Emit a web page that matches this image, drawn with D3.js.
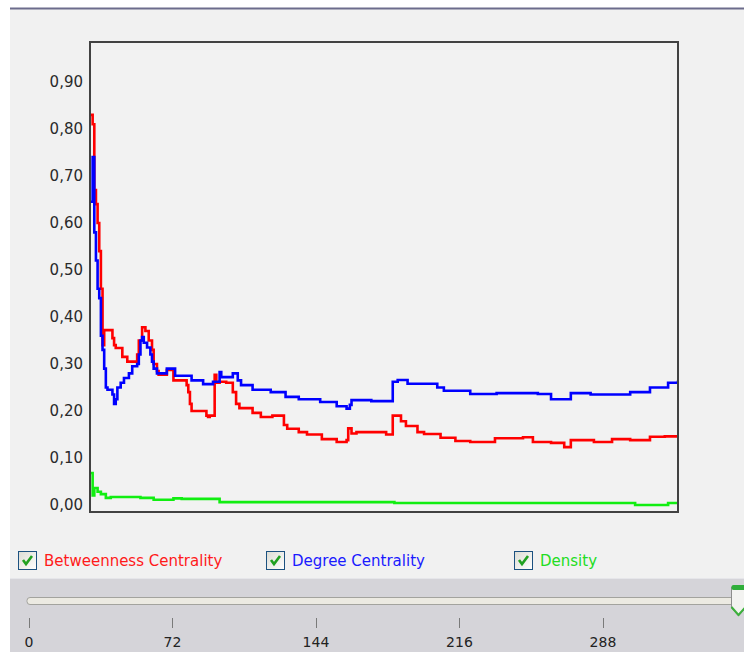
<!DOCTYPE html>
<html>
<head>
<meta charset="utf-8">
<script src="https://cdn.jsdelivr.net/npm/d3@7"></script>
<style>
  body { margin: 0; background: #ffffff; }
  text { font-family: "DejaVu Sans", sans-serif; }
</style>
</head>
<body>
<svg id="chart" width="744" height="652"></svg>
<script>
// values, step index -> value (held until next step)
var betweenness_steps = [0,1,2,3,4,5,6,7,8,13,14,15,19,22,28,29,31,33,35,37,38,40,41,46,50,58,59,60,61,70,71,72,75,76,78,82,86,88,90,98,103,110,117,119,126,131,140,149,155,156,158,161,179,183,188,191,198,202,212,221,230,245,262,268,279,287,291,305,316,327,339,348,356]
var betweenness_values = [0.83,0.81,0.67,0.64,0.60,0.54,0.46,0.34,0.372,0.355,0.34,0.334,0.315,0.305,0.32,0.35,0.378,0.37,0.35,0.33,0.30,0.285,0.277,0.287,0.265,0.255,0.24,0.215,0.2,0.19,0.187,0.19,0.277,0.26,0.262,0.26,0.24,0.215,0.206,0.196,0.187,0.19,0.17,0.162,0.155,0.15,0.14,0.134,0.138,0.163,0.152,0.155,0.15,0.19,0.178,0.168,0.155,0.151,0.143,0.136,0.134,0.142,0.144,0.134,0.132,0.123,0.138,0.134,0.14,0.138,0.145,0.146,0.146]

var degree_steps = [0,1,2,3,4,5,6,7,8,9,10,13,14,15,16,18,20,23,25,28,29,30,31,32,34,36,37,38,40,46,51,61,68,74,78,79,86,89,91,98,109,118,126,139,149,155,157,158,170,183,186,192,210,214,230,246,271,279,291,303,327,339,350,356]
var degree_values = [0.645,0.74,0.58,0.52,0.46,0.44,0.36,0.33,0.29,0.25,0.245,0.235,0.215,0.225,0.25,0.26,0.27,0.28,0.295,0.30,0.32,0.35,0.357,0.345,0.335,0.32,0.305,0.29,0.28,0.29,0.275,0.265,0.257,0.262,0.283,0.272,0.28,0.265,0.255,0.245,0.24,0.23,0.225,0.219,0.21,0.205,0.213,0.223,0.221,0.262,0.266,0.258,0.25,0.243,0.236,0.238,0.236,0.225,0.238,0.235,0.24,0.25,0.26,0.265]

var density_steps = [0,1,2,4,6,9,12,30,38,50,55,78,184,330,350,356]
var density_values = [0.068,0.02,0.036,0.028,0.023,0.015,0.017,0.015,0.011,0.014,0.013,0.006,0.004,0.0,0.004,0.004]

var y_ticks = [0,0.1,0.2,0.3,0.4,0.5,0.6,0.7,0.8,0.9]
var slider_ticks = [0,72,144,216,288]
var slider_max = 356

var legend_labels = ['Betweenness Centrality','Degree Centrality','Density']
var legend_colors = ['#ff1a1a','#1a1aff','#22dd22']

var svg = d3.select('#chart')

// panel background and top rule
svg.append('rect').attr('x',10).attr('y',9).attr('width',734).attr('height',643).attr('fill','#f1f1f1')
svg.append('line').attr('x1',10).attr('x2',744).attr('y1',8.5).attr('y2',8.5)
  .attr('stroke','#6c6c8c').attr('stroke-width',2)

var x = d3.scaleLinear().domain([0,slider_max]).range([91,678])
var y = d3.scaleLinear().domain([-0.015,0.985]).range([512,42])

svg.append('rect').attr('x',90).attr('y',42).attr('width',588).attr('height',470)
  .attr('fill','#f2f2f2')

svg.append('clipPath').attr('id','plot_clip')
  .append('rect').attr('x',91).attr('y',43).attr('width',586).attr('height',468)

var comma = function(d) { return d3.format('.2f')(d).replace('.',',') }

var y_axis = svg.append('g').attr('transform','translate(90,0)')
  .call(d3.axisLeft(y).tickValues(y_ticks).tickSize(0).tickPadding(7).tickFormat(comma))
y_axis.select('.domain').remove()
y_axis.selectAll('text').attr('font-family','"DejaVu Sans", sans-serif')
  .attr('font-size',15).attr('fill','#2a2a2a')

function make_series(steps, values) {
  return steps.map(function(s,i) { return [s, values[i]] })
}

var line = d3.line()
  .x(function(d) { return x(d[0]) })
  .y(function(d) { return y(d[1]) })
  .curve(d3.curveStepAfter)

var series = [
  {data: make_series(density_steps, density_values), color: '#11ee11'},
  {data: make_series(betweenness_steps, betweenness_values), color: '#ff0000'},
  {data: make_series(degree_steps, degree_values), color: '#0000ff'}
]

var lines_g = svg.append('g').attr('clip-path','url(#plot_clip)')
series.forEach(function(s) {
  lines_g.append('path').datum(s.data)
    .attr('d', line)
    .attr('fill','none')
    .attr('stroke', s.color)
    .attr('stroke-width', 2.6)
})

// frame on top
svg.append('rect').attr('x',90).attr('y',42).attr('width',588).attr('height',470)
  .attr('fill','none').attr('stroke','#424242').attr('stroke-width',2)

// legend with checkboxes
var grad = svg.append('defs').append('linearGradient').attr('id','box_grad')
  .attr('x1',0).attr('y1',0).attr('x2',1).attr('y2',1)
grad.append('stop').attr('offset','0%').attr('stop-color','#dcdcd4')
grad.append('stop').attr('offset','100%').attr('stop-color','#ffffff')

var legend_x = [18,266,514]
legend_labels.forEach(function(label,i) {
  var bx = legend_x[i], by = 551
  svg.append('rect').attr('x',bx+0.5).attr('y',by+0.5).attr('width',18).attr('height',18)
    .attr('fill','url(#box_grad)').attr('stroke','#1c5180')
  svg.append('path')
    .attr('d','M'+(bx+5)+','+(by+9)+' L'+(bx+8)+','+(by+13)+' L'+(bx+14)+','+(by+5))
    .attr('fill','none').attr('stroke','#21a121').attr('stroke-width',2.6)
  svg.append('text').attr('x',bx+26).attr('y',by+15)
    .attr('font-size',15).attr('fill',legend_colors[i]).text(label)
})

// slider band
svg.append('rect').attr('x',10).attr('y',578).attr('width',734).attr('height',74).attr('fill','#d5d4d9')
svg.append('line').attr('x1',10).attr('x2',744).attr('y1',578.5).attr('y2',578.5).attr('stroke','#e6e6ea')

var sx = d3.scaleLinear().domain([0,slider_max]).range([29,738.5])

svg.append('rect').attr('x',27).attr('y',597.5).attr('width',sx(slider_max)-27).attr('height',7)
  .attr('rx',3).attr('fill','#eceae2').attr('stroke','#a3a39e')

svg.selectAll('.stick').data(slider_ticks).enter().append('line')
  .attr('x1',function(d) { return Math.round(sx(d))+0.5 })
  .attr('x2',function(d) { return Math.round(sx(d))+0.5 })
  .attr('y1',618).attr('y2',628).attr('stroke','#7a7a7a')

svg.selectAll('.slabel').data(slider_ticks).enter().append('text')
  .attr('x',function(d) { return sx(d) }).attr('y',647)
  .attr('text-anchor','middle').attr('font-size',14).attr('fill','#222')
  .text(function(d) { return d })

// slider thumb
var tx = sx(slider_max)
svg.append('path')
  .attr('d','M'+(tx-7)+',587 L'+(tx+7)+',587 L'+(tx+7)+',608 L'+tx+',616 L'+(tx-7)+',608 Z')
  .attr('fill','#f3f3f1').attr('stroke','#8d8d8d')
svg.append('rect').attr('x',tx-7).attr('y',585).attr('width',14).attr('height',5).attr('rx',2).attr('fill','#2fae3a')
svg.append('path').attr('d','M'+(tx-7)+',607 L'+tx+',615 L'+(tx+7)+',607')
  .attr('fill','none').attr('stroke','#3cb13c').attr('stroke-width',2)
</script>
</body>
</html>
